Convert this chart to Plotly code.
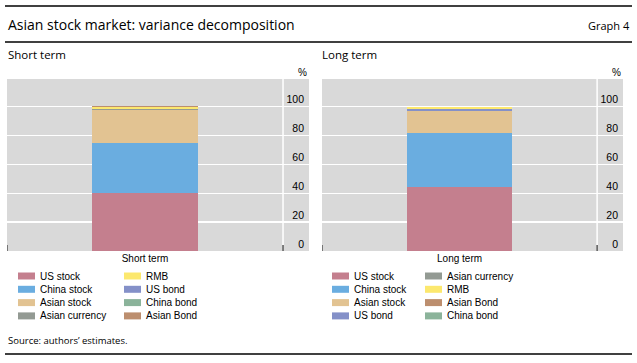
import plotly.graph_objects as go

# ---- data ----
series = ["US stock", "China stock", "Asian stock", "Asian currency", "RMB", "US bond", "China bond", "Asian Bond"]
short_values = [40.0, 35.0, 22.8, 0.7, 1.2, 0.1, 0.1, 0.1]
long_series = ["US stock", "China stock", "Asian stock", "US bond", "Asian currency", "RMB", "Asian Bond", "China bond"]
long_values = [44.0, 37.5, 15.5, 1.2, 0.1, 1.2, 0.1, 0.1]
y_ticks = [0, 20, 40, 60, 80, 100]

colors = {
    "US stock": "#C47F8E",
    "China stock": "#6AADE0",
    "Asian stock": "#E2C392",
    "Asian currency": "#939A93",
    "RMB": "#FCE86E",
    "US bond": "#8490C8",
    "China bond": "#8BB39A",
    "Asian Bond": "#BC8E6E",
}

W, H = 637, 363
def px(x):
    return x / W
def py(y):
    return 1 - y / H

fig = go.Figure()

for name, v in zip(series, short_values):
    fig.add_trace(go.Bar(x=["Short term"], y=[v], name=name, marker_color=colors[name],
                         marker_line_width=0, width=1.0, xaxis="x", yaxis="y"))
for name, v in zip(long_series, long_values):
    fig.add_trace(go.Bar(x=["Long term"], y=[v], name=name, marker_color=colors[name],
                         marker_line_width=0, width=1.0, xaxis="x2", yaxis="y2"))

x1d = [px(7), px(309)]
x2d = [px(322), px(623)]
yd = [py(251), py(79)]

axis_font = dict(family="Liberation Sans, Arial, sans-serif", size=10.5, color="black")
xcommon = dict(range=[-1.302, 1.547], showgrid=False, zeroline=False, showline=False,
               ticks="", tickfont=dict(family="Liberation Sans, Arial, sans-serif", size=10, color="black"))
ycommon = dict(range=[0, 119], tickvals=y_ticks, showgrid=True, gridcolor="white", gridwidth=1.2,
               zeroline=False, showline=False, side="right", ticklabelposition="inside",
               ticklabeloverflow="allow",
               tickfont=axis_font, ticklabelshift=-7, ticklabelstandoff=2)

fig.update_layout(
    width=W, height=H,
    margin=dict(l=0, r=0, t=0, b=0, autoexpand=False),
    paper_bgcolor="white",
    plot_bgcolor="#D9D9D9",
    barmode="stack",
    showlegend=False,
    hovermode=False,
    xaxis=dict(domain=x1d, anchor="y", **xcommon),
    yaxis=dict(domain=yd, anchor="x", **ycommon),
    xaxis2=dict(domain=x2d, anchor="y2", **xcommon),
    yaxis2=dict(domain=yd, anchor="x2", **ycommon),
)

# white divider lines inside plot areas (separating label strip) and small edge ticks
for xr, yr in [("x", "y"), ("x2", "y2")]:
    fig.add_shape(type="line", xref=xr, yref=yr + " domain", x0=1.302, x1=1.302, y0=0, y1=1,
                  line=dict(color="white", width=1.5), layer="below")
    for xt in (-1.302, 1.302):
        fig.add_shape(type="line", xref=xr, yref=yr + " domain", x0=xt, x1=xt, y0=0, y1=0.035,
                      line=dict(color="#555555", width=1.5))

# legends (column-major, 2 columns x 4 rows), built from the series lists
legend_font = dict(family="Liberation Sans, Arial, sans-serif", size=10, color="black")
def draw_legend(names, x0, colw):
    for i, n in enumerate(names):
        col, row = divmod(i, 4)
        xs = x0 + col * colw
        yc = 276 + row * 13.3
        fig.add_shape(type="rect", xref="paper", yref="paper",
                      x0=px(xs), x1=px(xs + 17), y0=py(yc - 3.5), y1=py(yc + 3.5),
                      fillcolor=colors[n], line_width=0)
        fig.add_annotation(text=n, xref="paper", yref="paper", x=px(xs + 20), y=py(yc),
                           xanchor="left", yanchor="middle", showarrow=False, font=legend_font)

draw_legend(series, 18, 106)
draw_legend(long_series, 332, 93)

# horizontal rules
for yline in [6, 42, 354]:
    fig.add_shape(type="line", xref="paper", yref="paper", x0=px(5), x1=px(632),
                  y0=py(yline), y1=py(yline), line=dict(color="black", width=1.5))

title_font = "Open Sans, Noto Sans, sans-serif"
anns = [
    dict(text="Asian stock market: variance decomposition", x=px(6), y=py(24), xanchor="left",
         font=dict(family=title_font, size=14, color="black")),
    dict(text="Graph 4", x=px(632), y=py(25), xanchor="right",
         font=dict(family=title_font, size=11, color="black")),
    dict(text="Short term", x=px(6), y=py(55), xanchor="left",
         font=dict(family=title_font, size=11.5, color="black")),
    dict(text="Long term", x=px(320), y=py(55), xanchor="left",
         font=dict(family=title_font, size=11.5, color="black")),
    dict(text="%", x=px(309), y=py(72), xanchor="right",
         font=dict(family="Liberation Sans, Arial, sans-serif", size=10, color="black")),
    dict(text="%", x=px(623), y=py(72), xanchor="right",
         font=dict(family="Liberation Sans, Arial, sans-serif", size=10, color="black")),
    dict(text="Source: authors’ estimates.", x=px(6), y=py(340), xanchor="left",
         font=dict(family=title_font, size=9.5, color="black")),
]
for a in anns:
    fig.add_annotation(xref="paper", yref="paper", showarrow=False, yanchor="middle", **a)

fig.write_html("out.html", config={"displayModeBar": False, "staticPlot": True},
               post_script="document.body.style.margin='0';document.body.style.overflow='hidden';")
